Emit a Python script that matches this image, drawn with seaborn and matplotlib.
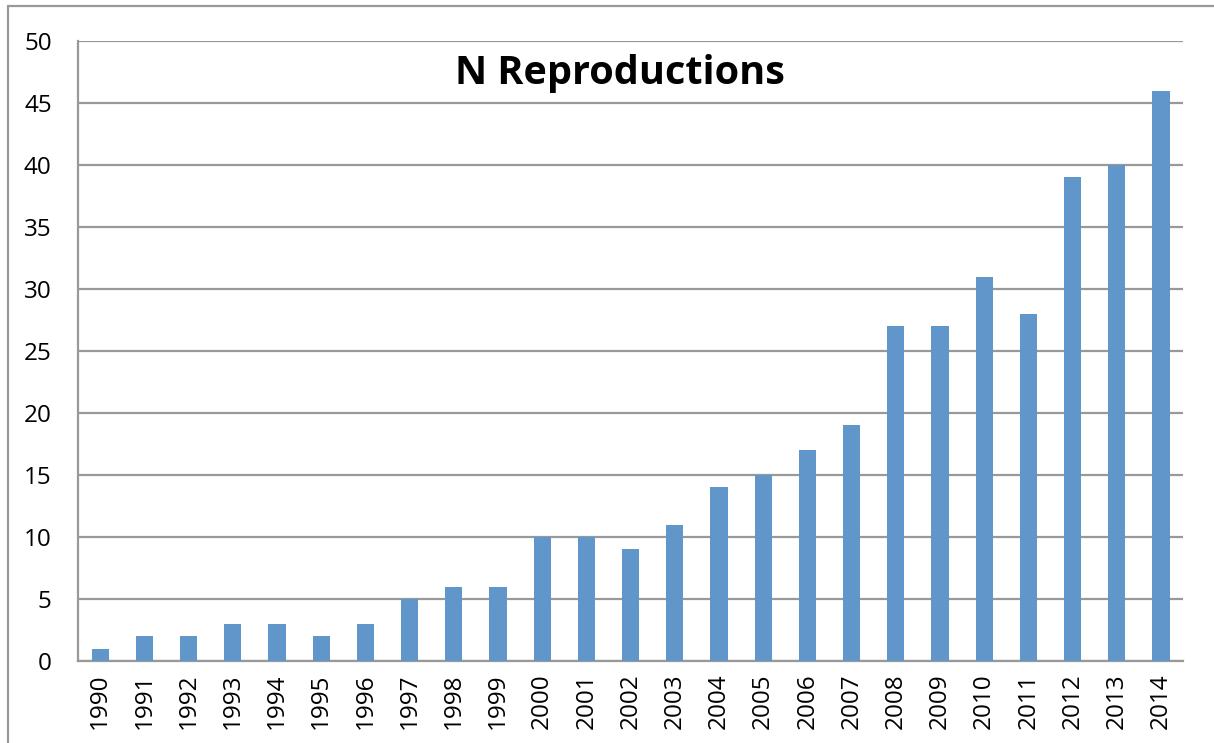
import numpy as np
import pandas as pd
import matplotlib.pyplot as plt
from matplotlib.lines import Line2D
import seaborn as sns

# 数据
years = [str(y) for y in range(1990, 2015)]
counts = [1, 2, 2, 3, 3, 2, 3, 5, 6, 6, 10, 10, 9, 11, 14, 15, 17, 19,
          27, 27, 31, 28, 39, 40, 46]
y_ticks = [0, 5, 10, 15, 20, 25, 30, 35, 40, 45, 50]

df = pd.DataFrame({"Year": years, "N": counts})

sns.set_theme(style="white")
plt.rcParams['font.family'] = ['Open Sans', 'DejaVu Sans']

fig = plt.figure(figsize=(12.14, 7.43), dpi=100)
ax = fig.add_axes([0.0643, 0.1104, 0.9102, 0.8344])

grid_col = "#999999"
sns.barplot(data=df, x="Year", y="N", color="#6096C9", saturation=1,
            width=0.39, linewidth=0, ax=ax, zorder=3)

ax.set_ylim(0, 50)
ax.set_xlim(-0.5, len(years) - 0.5)
ax.set_yticks(y_ticks)
ax.yaxis.grid(True, color=grid_col, linewidth=1.6, zorder=0)
ax.set_axisbelow(True)
ax.set_xlabel("")
ax.set_ylabel("")

for s in ["top", "right"]:
    ax.spines[s].set_visible(False)
for s in ["left", "bottom"]:
    ax.spines[s].set_color(grid_col)
    ax.spines[s].set_linewidth(1.6)

# 类别分隔刻度
ax.set_xticks(np.arange(-0.5, len(years)), minor=True)
ax.tick_params(axis="x", which="minor", length=8, width=1.6, color=grid_col,
               direction="out")
ax.tick_params(axis="x", which="major", length=0, labelsize=17.5, rotation=90,
               pad=9, labelcolor="black")
ax.tick_params(axis="y", length=8, width=1.6, color=grid_col, direction="out",
               labelsize=17.5, pad=11, labelcolor="black")

ax.text(0.49, 0.948, "N Reproductions", transform=ax.transAxes,
        ha="center", va="center", fontsize=28.5, fontweight="bold",
        color="black")

# 外框（上、左）
fig.add_artist(Line2D([8 / 1214, 1], [1 - 6 / 743, 1 - 6 / 743],
                      transform=fig.transFigure, color="#999999", lw=1.6))
fig.add_artist(Line2D([8 / 1214, 8 / 1214], [0, 1 - 6 / 743],
                      transform=fig.transFigure, color="#999999", lw=1.6))

plt.savefig("out.png", dpi=100)
